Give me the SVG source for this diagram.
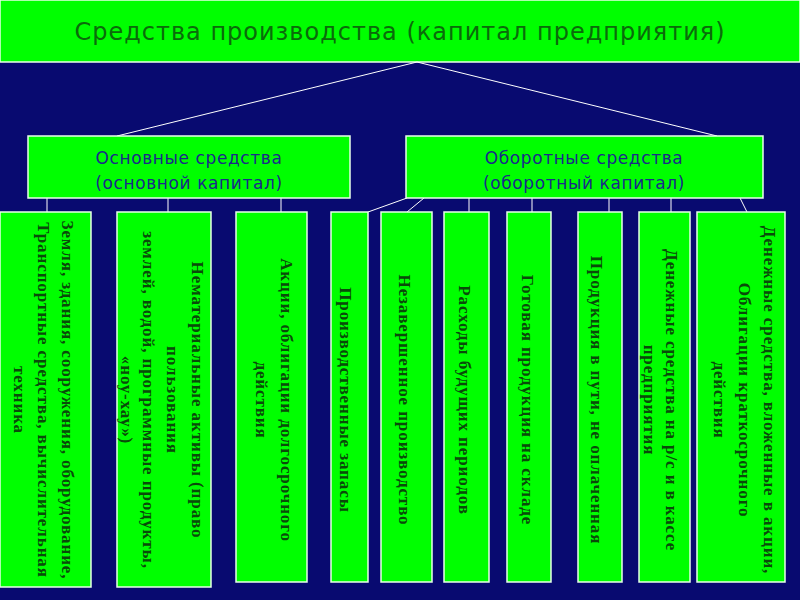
<svg xmlns="http://www.w3.org/2000/svg" width="800" height="600" viewBox="0 0 800 600">
<style>
.b{fill:#00ff00;stroke:#e8ffe8;stroke-width:1.5}
.c line{stroke:#ffffff;stroke-width:1}
.t{font-family:"Liberation Serif",serif;font-weight:bold;font-size:17px;letter-spacing:0.9px;fill:#0a4a0a;text-anchor:middle}
.m{font-family:"DejaVu Sans",sans-serif;font-size:17px;letter-spacing:0.6px;fill:#1a2a8a;text-anchor:middle}
</style>
<rect width="800" height="600" fill="#080a70"/>
<g id="top"><rect class="b" x="0" y="0" width="800" height="62"/>
<text x="400" y="40" font-family="DejaVu Sans,sans-serif" font-size="24" letter-spacing="1" fill="#0b6b0b" text-anchor="middle">Средства производства (капитал предприятия)</text></g>
<g class="c">
<line x1="417" y1="62" x2="117" y2="136"/><line x1="417" y1="62" x2="717" y2="136"/>
<line x1="47" y1="198" x2="47" y2="212"/><line x1="168" y1="198" x2="168" y2="212"/><line x1="281" y1="198" x2="281" y2="212"/>
<line x1="407" y1="198" x2="368" y2="212"/><line x1="424" y1="198" x2="407" y2="212"/>
<line x1="469" y1="198" x2="469" y2="212"/><line x1="532" y1="198" x2="532" y2="212"/><line x1="609" y1="198" x2="609" y2="212"/><line x1="671" y1="198" x2="671" y2="212"/><line x1="740" y1="198" x2="747" y2="212"/>
</g>
<g id="osn"><rect class="b" x="28" y="136" width="322" height="62"/>
<text class="m" x="189" y="164">Основные средства</text><text class="m" x="189" y="189">(основной капитал)</text></g>
<g id="obor"><rect class="b" x="406" y="136" width="357" height="62"/>
<text class="m" x="584" y="164">Оборотные средства</text><text class="m" x="584" y="189">(оборотный капитал)</text></g>
<g id="n1"><rect class="b" x="0" y="212" width="91" height="375"/>
<text class="t" transform="translate(62,400) rotate(90)">Земля, здания, сооружения, оборудование,</text>
<text class="t" transform="translate(38,400) rotate(90)">Транспортные средства, вычислительная</text>
<text class="t" transform="translate(14,400) rotate(90)">техника</text></g>
<g id="n2"><rect class="b" x="117" y="212" width="94" height="375"/>
<text class="t" transform="translate(192,400) rotate(90)">Нематериальные активы (право</text>
<text class="t" transform="translate(167,400) rotate(90)">пользования</text>
<text class="t" transform="translate(143,400) rotate(90)">землей, водой, программные продукты,</text>
<text class="t" transform="translate(121,400) rotate(90)">«ноу-хау»)</text></g>
<g id="n3"><rect class="b" x="236" y="212" width="71" height="370"/>
<text class="t" transform="translate(281,400) rotate(90)">Акции, облигации долгосрочного</text>
<text class="t" transform="translate(256,400) rotate(90)">действия</text></g>
<g id="n4"><rect class="b" x="331" y="212" width="37" height="370"/>
<text class="t" transform="translate(340,400) rotate(90)">Производственные запасы</text></g>
<g id="n5"><rect class="b" x="381" y="212" width="51" height="370"/>
<text class="t" transform="translate(399,400) rotate(90)">Незавершенное производство</text></g>
<g id="n6"><rect class="b" x="444" y="212" width="45" height="370"/>
<text class="t" transform="translate(459,400) rotate(90)">Расходы будущих периодов</text></g>
<g id="n7"><rect class="b" x="507" y="212" width="44" height="370"/>
<text class="t" transform="translate(522,400) rotate(90)">Готовая продукция на складе</text></g>
<g id="n8"><rect class="b" x="578" y="212" width="44" height="370"/>
<text class="t" transform="translate(591,400) rotate(90)">Продукция в пути, не оплаченная</text></g>
<g id="n9"><rect class="b" x="639" y="212" width="51" height="370"/>
<text class="t" transform="translate(666,400) rotate(90)">Денежные средства на р/с и в кассе</text>
<text class="t" transform="translate(644,400) rotate(90)">предприятия</text></g>
<g id="n10"><rect class="b" x="697" y="212" width="88" height="370"/>
<text class="t" transform="translate(764,400) rotate(90)">Денежные средства, вложенные в акции,</text>
<text class="t" transform="translate(739,400) rotate(90)">Облигации краткосрочного</text>
<text class="t" transform="translate(714,400) rotate(90)">действия</text></g>
</svg>
